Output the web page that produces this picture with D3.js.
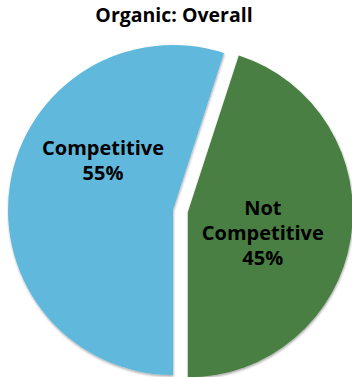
<!DOCTYPE html>
<html>
<head>
<meta charset="utf-8">
<script src="https://cdn.jsdelivr.net/npm/d3@7"></script>
<style>
  html, body { margin: 0; padding: 0; background: #fff; }
  svg { display: block; }
  text { font-family: "Open Sans", "Noto Sans", sans-serif; font-weight: 700; fill: #000; }
</style>
</head>
<body>
<div id="chart"></div>
<script>
// Share of organic results by competitiveness
const categories = ["Competitive", "Not Competitive"];
const labelLines = [["Competitive"], ["Not", "Competitive"]];
const values = [55, 45];
const colors = ["#60B9DC", "#4A7F43"];
const title = "Organic: Overall";

const width = 352, height = 377;
const cx = 173, cy = 210, radius = 165;
const explode = [0, 15];          // pull-out distance per slice
const labelPos = [[-70, -50], [75, 21]]; // label centre relative to slice origin
const lineHeight = [25, 25];

const svg = d3.select("#chart").append("svg")
  .attr("width", width).attr("height", height);

const defs = svg.append("defs");
const f = defs.append("filter").attr("id", "shadow")
  .attr("x", "-10%").attr("y", "-10%").attr("width", "120%").attr("height", "120%");
f.append("feDropShadow").attr("dx", 0.5).attr("dy", 1.5).attr("stdDeviation", 1)
  .attr("flood-color", "#000").attr("flood-opacity", 0.35);

svg.append("text")
  .attr("x", 174).attr("y", 22)
  .attr("text-anchor", "middle")
  .style("font-size", "19.5px")
  .text(title);

// Start the blue slice at 6 o'clock so the green slice ends there.
const total = d3.sum(values);
const pie = d3.pie().sort(null)
  .startAngle(Math.PI)
  .endAngle(3 * Math.PI);
const arcs = pie(values);
const arc = d3.arc().innerRadius(0).outerRadius(radius);

const g = svg.append("g").attr("transform", `translate(${cx},${cy})`);

const slices = g.selectAll("g.slice").data(arcs).join("g")
  .attr("class", "slice")
  .attr("transform", (d, i) => {
    const mid = (d.startAngle + d.endAngle) / 2;
    return `translate(${Math.sin(mid) * explode[i]},${-Math.cos(mid) * explode[i]})`;
  });

slices.append("path")
  .attr("d", arc)
  .attr("fill", (d, i) => colors[i])
  .attr("filter", "url(#shadow)");

slices.each(function(d, i) {
  const lines = labelLines[i].concat([d3.format(".0f")(values[i] / total * 100) + "%"]);
  const lh = lineHeight[i];
  const t = d3.select(this).append("text")
    .attr("text-anchor", "middle")
    .style("font-size", "20px");
  lines.forEach((ln, k) => {
    t.append("tspan")
      .attr("x", labelPos[i][0])
      .attr("y", labelPos[i][1] + (k - (lines.length - 1) / 2) * lh)
      .attr("dy", "0.35em")
      .text(ln);
  });
});
</script>
</body>
</html>
